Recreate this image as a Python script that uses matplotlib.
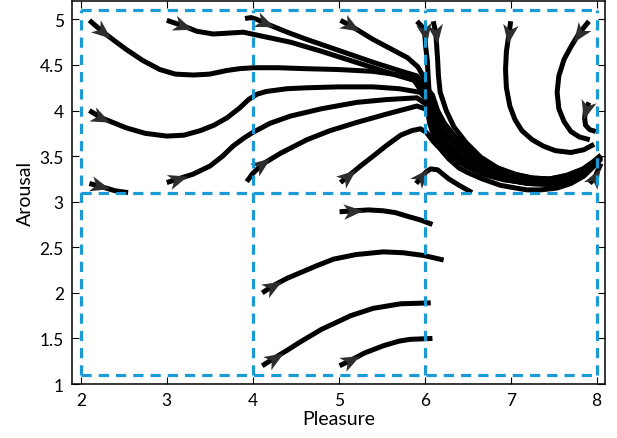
import numpy as np
import matplotlib
matplotlib.use("Agg")
import matplotlib.pyplot as plt
from matplotlib.path import Path
from matplotlib.markers import MarkerStyle
from matplotlib.transforms import Affine2D

plt.rcParams['font.family'] = ['Lato', 'DejaVu Sans']

# ---- data: trajectories (Pleasure, Arousal) ----
# shared tails of the converging bundle (upper -> lower)
TAIL_1 = [(6.09, 4.17), (6.15, 4.00), (6.23, 3.86), (6.33, 3.74), (6.46, 3.61), (6.62, 3.49),
          (6.82, 3.38), (7.04, 3.30), (7.25, 3.26), (7.45, 3.25), (7.65, 3.28), (7.83, 3.35),
          (7.96, 3.43), (8.05, 3.51)]
TAIL_2 = [(6.07, 4.13), (6.12, 3.96), (6.20, 3.81), (6.30, 3.69), (6.43, 3.57), (6.59, 3.46),
          (6.79, 3.35), (7.02, 3.27), (7.24, 3.23), (7.45, 3.22), (7.65, 3.26), (7.83, 3.33),
          (7.96, 3.42), (8.05, 3.50)]
TAIL_3 = [(6.05, 4.09), (6.10, 3.92), (6.17, 3.77), (6.27, 3.64), (6.40, 3.52), (6.56, 3.42),
          (6.76, 3.32), (6.99, 3.25), (7.22, 3.21), (7.45, 3.20), (7.65, 3.24), (7.83, 3.31),
          (7.96, 3.41), (8.05, 3.49)]
TAIL_4 = [(6.04, 4.05), (6.08, 3.88), (6.14, 3.73), (6.23, 3.61), (6.36, 3.50), (6.52, 3.40),
          (6.72, 3.30), (6.96, 3.24), (7.20, 3.20), (7.45, 3.19), (7.65, 3.22), (7.83, 3.30),
          (7.96, 3.40), (8.05, 3.48)]
TAIL_5 = [(6.03, 4.01), (6.06, 3.85), (6.11, 3.71), (6.20, 3.58), (6.32, 3.48), (6.48, 3.39),
          (6.68, 3.30), (6.92, 3.24), (7.17, 3.21), (7.45, 3.20), (7.65, 3.23), (7.83, 3.30),
          (7.96, 3.40), (8.05, 3.47)]

head_a = [(2.10, 4.99), (2.26, 4.86), (2.40, 4.76), (2.53, 4.67), (2.72, 4.55), (2.92, 4.45),
          (3.10, 4.40), (3.31, 4.39), (3.50, 4.40), (3.70, 4.44), (3.85, 4.46), (4.01, 4.47),
          (4.30, 4.47), (4.60, 4.46), (5.00, 4.45), (5.40, 4.43), (5.70, 4.39), (5.87, 4.34)]
head_b = [(3.00, 4.99), (3.19, 4.93), (3.35, 4.87), (3.54, 4.84), (3.72, 4.85), (3.89, 4.86),
          (4.09, 4.82), (4.44, 4.75), (4.80, 4.65), (5.10, 4.56), (5.40, 4.47), (5.70, 4.38),
          (5.92, 4.32)]
head_c = [(2.10, 4.00), (2.24, 3.92), (2.53, 3.81), (2.75, 3.75), (3.00, 3.72), (3.20, 3.73),
          (3.39, 3.78), (3.55, 3.84), (3.70, 3.92), (3.85, 4.03), (3.95, 4.12), (4.05, 4.18),
          (4.16, 4.21), (4.40, 4.24), (4.63, 4.25), (5.00, 4.26), (5.40, 4.26), (5.70, 4.24),
          (5.95, 4.20)]
head_d = [(3.00, 3.21), (3.13, 3.25), (3.30, 3.30), (3.50, 3.39), (3.65, 3.50), (3.77, 3.61),
          (3.90, 3.70), (4.00, 3.76), (4.20, 3.86), (4.44, 3.94), (4.80, 4.02), (5.21, 4.09),
          (5.55, 4.12), (5.91, 4.14)]
head_f = [(3.91, 5.01), (3.98, 5.02), (4.05, 5.00), (4.14, 4.96), (4.40, 4.86), (4.63, 4.78),
          (5.00, 4.66), (5.40, 4.53), (5.70, 4.44), (5.91, 4.38)]
head_h = [(3.93, 3.22), (4.00, 3.31), (4.11, 3.41), (4.32, 3.53), (4.63, 3.68), (4.90, 3.78),
          (5.21, 3.87), (5.55, 3.96), (5.91, 4.05)]
head_i = [(5.02, 4.99), (5.14, 4.93), (5.40, 4.78), (5.60, 4.68), (5.80, 4.58), (5.92, 4.48),
          (6.00, 4.35)]
head_l = [(5.91, 4.98), (5.97, 4.92), (6.00, 4.85), (6.01, 4.71), (6.03, 4.55), (6.04, 4.38),
          (6.05, 4.22)]

traj_m = [(6.10, 4.98), (6.13, 4.84), (6.14, 4.70), (6.15, 4.56), (6.16, 4.38), (6.18, 4.20),
          (6.25, 4.00), (6.34, 3.82), (6.48, 3.65), (6.65, 3.49), (6.85, 3.37), (7.06, 3.30),
          (7.25, 3.26), (7.45, 3.25), (7.65, 3.29), (7.84, 3.36), (7.96, 3.44), (8.05, 3.51)]
traj_j = [(5.02, 3.21), (5.11, 3.28), (5.25, 3.39), (5.40, 3.50), (5.56, 3.62), (5.72, 3.73),
          (5.85, 3.78), (5.95, 3.80), (6.02, 3.76), (6.10, 3.66), (6.18, 3.58), (6.28, 3.47),
          (6.40, 3.37), (6.50, 3.32), (6.67, 3.25), (6.88, 3.18), (7.06, 3.15), (7.19, 3.13),
          (7.35, 3.13), (7.54, 3.15), (7.70, 3.20), (7.85, 3.28), (7.97, 3.39), (8.05, 3.47)]
traj_e = [(2.10, 3.20), (2.22, 3.17), (2.40, 3.12), (2.55, 3.10)]
traj_k = [(5.90, 3.20), (5.97, 3.28), (6.02, 3.33), (6.07, 3.36), (6.15, 3.35), (6.28, 3.25),
          (6.40, 3.18), (6.55, 3.10)]
traj_r = [(7.00, 4.98), (6.98, 4.84), (6.95, 4.65), (6.94, 4.45), (6.95, 4.25), (6.99, 4.05),
          (7.05, 3.90), (7.13, 3.78), (7.25, 3.68), (7.38, 3.61), (7.52, 3.56), (7.70, 3.54),
          (7.85, 3.57), (7.97, 3.63)]
traj_s = [(7.91, 4.98), (7.79, 4.84), (7.70, 4.70), (7.62, 4.56), (7.56, 4.38), (7.54, 4.20),
          (7.56, 4.02), (7.62, 3.88), (7.70, 3.77), (7.80, 3.71), (7.92, 3.68)]
traj_t = [(7.91, 4.09), (7.87, 4.01), (7.86, 3.92), (7.87, 3.84), (7.92, 3.79), (7.99, 3.77)]
traj_u = [(7.92, 3.20), (7.98, 3.27), (8.05, 3.42)]
traj_n = [(5.01, 2.89), (5.17, 2.90), (5.35, 2.91), (5.52, 2.90), (5.66, 2.88), (5.80, 2.84),
          (5.95, 2.80), (6.09, 2.75)]
traj_o = [(4.11, 2.00), (4.24, 2.08), (4.40, 2.16), (4.55, 2.22), (4.75, 2.30), (4.94, 2.37),
          (5.20, 2.42), (5.52, 2.45), (5.75, 2.44), (5.99, 2.41), (6.22, 2.36)]
traj_p = [(4.11, 1.20), (4.26, 1.29), (4.40, 1.37), (4.55, 1.46), (4.80, 1.60), (5.14, 1.75),
          (5.40, 1.83), (5.72, 1.88), (6.07, 1.89)]
traj_q = [(5.01, 1.20), (5.14, 1.26), (5.30, 1.34), (5.52, 1.42), (5.70, 1.47), (5.83, 1.49),
          (6.09, 1.50)]

# (trajectory, index of the arrowhead point)
trajectories = [
    (head_f + TAIL_1, 3), (head_i + TAIL_2, 1), (head_b + TAIL_2, 1),
    (head_a + TAIL_3, 1), (head_c + TAIL_3, 1), (head_l + TAIL_4, 2),
    (head_d + TAIL_4, 1), (head_h + TAIL_5, 2),
    (traj_m, 1), (traj_j, 1), (traj_e, 1), (traj_k, 1), (traj_r, 1), (traj_s, 1),
    (traj_t, 1), (traj_u, 1), (traj_n, 1), (traj_o, 1), (traj_p, 1), (traj_q, 1),
]

grid_x = [2, 4, 6, 8]
grid_y = [1.1, 3.1, 5.1]
x_ticks = [2, 3, 4, 5, 6, 7, 8]
y_ticks = [1, 1.5, 2, 2.5, 3, 3.5, 4, 4.5, 5]
y_ticklabels = ['1', '1.5', '2', '2.5', '3', '3.5', '4', '4.5', '5']

# ---- figure ----
fig = plt.figure(figsize=(6.17, 4.39), dpi=100)
ax = fig.add_axes([0.117, 0.123, 0.864, 0.872])
ax.set_xlim(1.9, 8.1)
ax.set_ylim(1.0, 5.2)

blue = '#1c9ad6'
ax.vlines(grid_x, grid_y[0], grid_y[-1], colors=blue, linewidth=2.3,
          linestyles=(0, (3.2, 2.2)), zorder=5)
ax.hlines(grid_y, grid_x[0], grid_x[-1], colors=blue, linewidth=2.3,
          linestyles=(0, (3.2, 2.2)), zorder=5)

arrow_path = Path([(1.0, 0.0), (-1.0, 0.8), (-0.45, 0.0), (-1.0, -0.8), (1.0, 0.0)],
                  [Path.MOVETO, Path.LINETO, Path.LINETO, Path.LINETO, Path.CLOSEPOLY])

for pts, k in trajectories:
    arr = np.array(pts)
    ax.plot(arr[:, 0], arr[:, 1], color='black', linewidth=3.6,
            solid_capstyle='butt', solid_joinstyle='round', zorder=3)
    p0 = ax.transData.transform(arr[k - 1])
    p1 = ax.transData.transform(arr[k + 1])
    ang = np.degrees(np.arctan2(p1[1] - p0[1], p1[0] - p0[0]))
    m = MarkerStyle(arrow_path, transform=Affine2D().rotate_deg(ang))
    ax.plot(arr[k, 0], arr[k, 1], marker=m, markersize=14, color='#2e2e2e',
            markeredgewidth=0, linestyle='none', zorder=4)

ax.set_xticks(x_ticks)
ax.set_yticks(y_ticks)
ax.set_yticklabels(y_ticklabels)
ax.tick_params(direction='in', top=True, right=True, length=5, width=0.8,
               labelsize=12.5, pad=6)
for s in ax.spines.values():
    s.set_linewidth(1.1)
ax.set_xlabel('Pleasure', fontsize=14, labelpad=1)
ax.set_ylabel('Arousal', fontsize=14, labelpad=4)

fig.savefig('out.png', dpi=100)
